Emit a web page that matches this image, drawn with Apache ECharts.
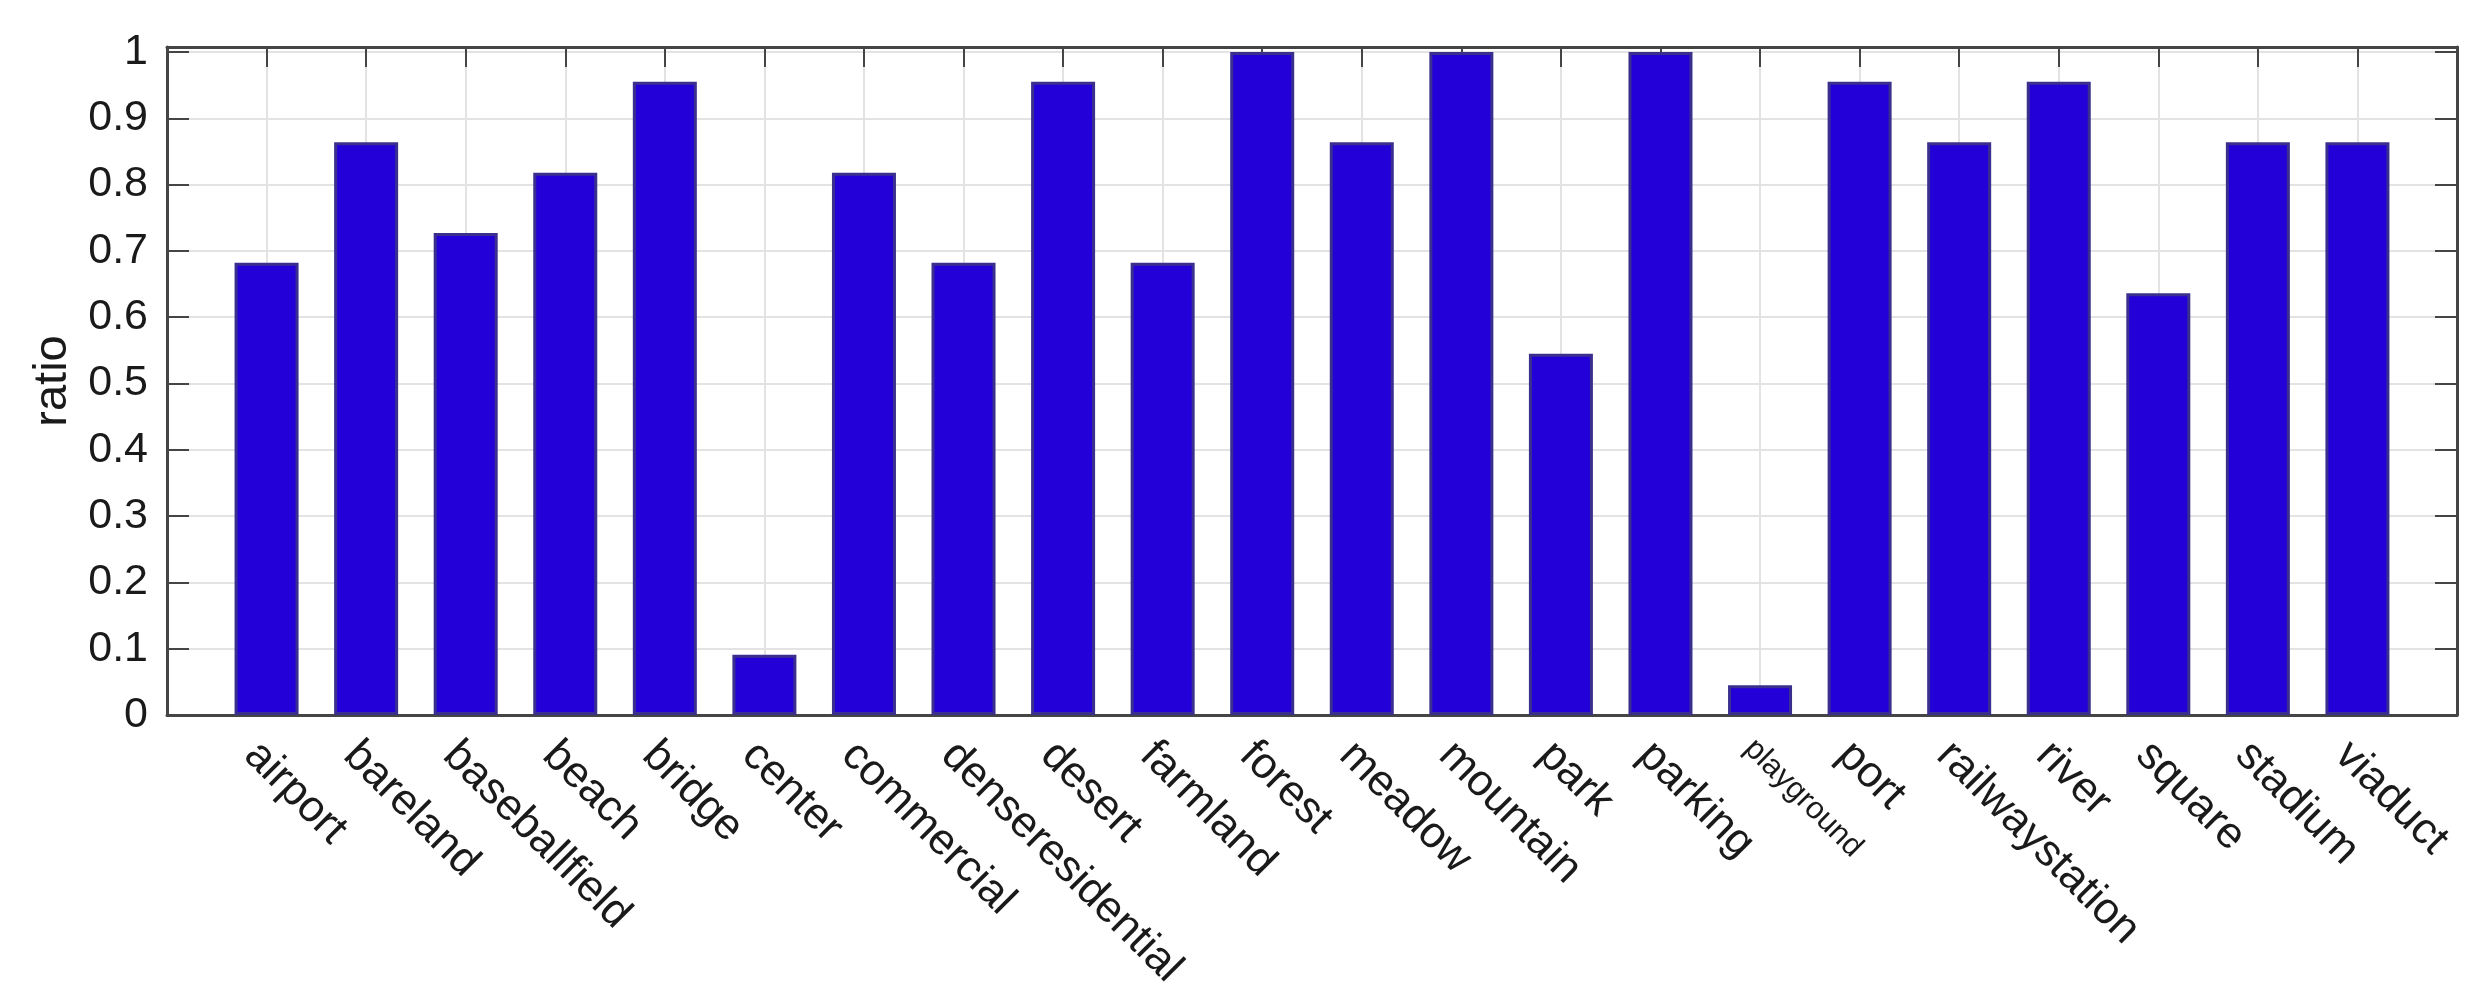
<!DOCTYPE html>
<html>
<head>
<meta charset="utf-8">
<script src="https://cdn.jsdelivr.net/npm/echarts@6/dist/echarts.min.js"></script>
<style>
html,body{margin:0;padding:0;background:#fff;}
#chart{width:2490px;height:995px;}
</style>
</head>
<body>
<div id="chart"></div>
<script>
const categories = ['airport','bareland','baseballfield','beach','bridge','center','commercial','denseresidential','desert','farmland','forest','meadow','mountain','park','parking','playground','port','railwaystation','river','square','stadium','viaduct'];
const ratios = [0.682,0.864,0.727,0.818,0.955,0.091,0.818,0.682,0.955,0.682,1.0,0.864,1.0,0.545,1.0,0.045,0.955,0.864,0.955,0.636,0.864,0.864];
const yTicks = [0,0.1,0.2,0.3,0.4,0.5,0.6,0.7,0.8,0.9,1];
const smallLabels = ['playground'];

const FONT = 'Liberation Sans, Arial, Helvetica, sans-serif';
const frameColor = '#454545';
const gridColor = '#e3e3e3';

const barData = ratios.map((v, i) => [i + 1, v]);

function xLabel(v) {
  const i = Math.round(v) - 1;
  if (Math.abs(v - Math.round(v)) > 1e-6 || i < 0 || i >= categories.length) return '';
  const name = categories[i];
  return smallLabels.includes(name) ? '{s|' + name + '}' : name;
}
function yLabel(v) {
  for (const t of yTicks) if (Math.abs(v - t) < 1e-6) return String(t);
  return '';
}

const chart = echarts.init(document.getElementById('chart'), null, {renderer: 'canvas'});
chart.setOption({
  backgroundColor: '#ffffff',
  animation: false,
  grid: {left: 167, right: 33, top: 47, bottom: 280, containLabel: false},
  xAxis: [
    {
      type: 'value', min: 0, max: categories.length + 1, interval: 1, position: 'bottom',
      axisLine: {show: true, onZero: false, lineStyle: {color: frameColor, width: 3}},
      axisTick: {show: false},
      splitLine: {show: true, lineStyle: {color: gridColor, width: 2}},
      axisLabel: {
        show: true, formatter: xLabel, rotate: -45, margin: 18,
        fontSize: 44, fontFamily: FONT, color: '#1a1a1a',
        align: 'left', verticalAlign: 'top',
        showMinLabel: false, showMaxLabel: false,
        rich: {s: {fontSize: 31, fontFamily: FONT, color: '#1a1a1a'}}
      }
    },
    {
      type: 'value', min: 0, max: categories.length + 1, interval: 1, position: 'top',
      axisLine: {show: true, onZero: false, lineStyle: {color: frameColor, width: 3}},
      axisTick: {show: true, inside: true, length: 20, lineStyle: {color: frameColor, width: 2}},
      splitLine: {show: false},
      axisLabel: {show: false}
    }
  ],
  yAxis: [
    {
      type: 'value', min: 0, max: 1.0075, interval: 0.1, position: 'left',
      name: 'ratio', nameLocation: 'middle', nameGap: 90, nameRotate: 90,
      nameTextStyle: {fontSize: 47, fontFamily: FONT, color: '#1a1a1a'},
      axisLine: {show: true, onZero: false, lineStyle: {color: frameColor, width: 3}},
      axisTick: {show: true, inside: true, length: 22, lineStyle: {color: frameColor, width: 2}},
      splitLine: {show: true, lineStyle: {color: gridColor, width: 2}},
      axisLabel: {show: true, formatter: yLabel, margin: 19, fontSize: 43, fontFamily: FONT, color: '#1a1a1a'}
    },
    {
      type: 'value', min: 0, max: 1.0075, interval: 0.1, position: 'right',
      axisLine: {show: true, onZero: false, lineStyle: {color: frameColor, width: 3}},
      axisTick: {show: true, inside: true, length: 22, lineStyle: {color: frameColor, width: 2}},
      splitLine: {show: false},
      axisLabel: {show: false}
    }
  ],
  series: [{
    type: 'bar',
    xAxisIndex: 0, yAxisIndex: 0,
    data: barData,
    barWidth: 64,
    itemStyle: {
      color: '#2400d8',
      borderColor: '#3b2f8e',
      borderWidth: 3
    }
  }]
});
</script>
</body>
</html>
